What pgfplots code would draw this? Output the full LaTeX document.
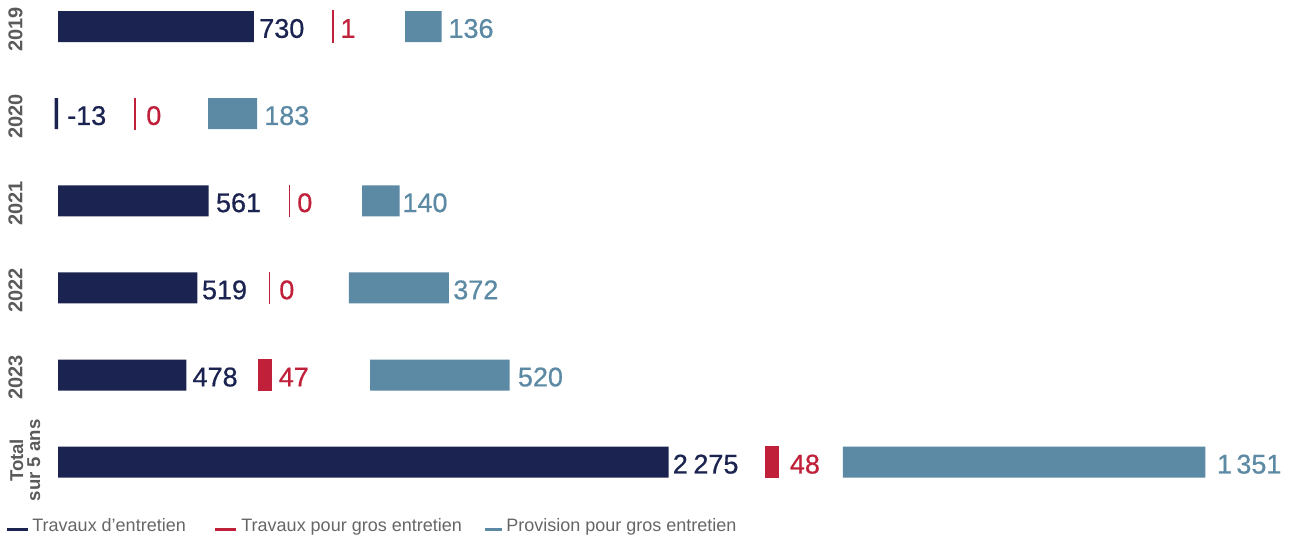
\documentclass[border=0pt]{standalone}
\usepackage{fontspec}
\setmainfont{Liberation Sans}
\newfontfamily\numfamily{Liberation Sans}[FakeBold=0.6]
\usepackage{pgfplots}
\pgfplotsset{compat=1.18}
\definecolor{navy}{HTML}{1B2350}
\definecolor{crimson}{HTML}{C1203A}
\definecolor{steel}{HTML}{5C89A3}
\definecolor{ygray}{HTML}{5A5A5A}
\definecolor{lgray}{HTML}{666666}
\tikzset{
  lab/.style={anchor=west, inner sep=0pt, yshift=-1pt, font=\numfamily\fontsize{13.5}{14}\selectfont},
  yr/.style={rotate=90, text=ygray, font=\bfseries\fontsize{10}{8.5}\selectfont, inner sep=0pt},
  leg/.style={anchor=base west, inner sep=0pt, text=lgray, font=\fontsize{9}{10}\selectfont},
}
\begin{document}
\begin{tikzpicture}
\useasboundingbox (0,0) rectangle (647.5pt,269pt);
\begin{axis}[
  at={(0pt,19pt)}, anchor=south west,
  scale only axis, width=647.5pt, height=250pt,
  xmin=-216.1, xmax=4608.8,
  ymin=-0.304, ymax=5.434, y dir=reverse,
  hide axis, clip=false,
  xbar stacked, bar width=15.5pt,
]
% Travaux d'entretien
\addplot[fill=navy, draw=none]
 coordinates {(730,0) (-13,1) (561,2) (519,3) (478,4) (2275,5)};
% spacer (gap for the value label)
\addplot[draw=none, fill=none]
 coordinates {(294,0) (287,1) (301,2) (268,3) (271,4) (362,5)};
% Travaux pour gros entretien
\addplot[fill=crimson, draw=crimson, line width=0.6pt]
 coordinates {(1,0) (0.01,1) (0.01,2) (0.01,3) (47,4) (48,5)};
% spacer (gap for the value label)
\addplot[draw=none, fill=none]
 coordinates {(268,0) (272,1) (271,2) (297,3) (367,4) (239,5)};
% Provision pour gros entretien
\addplot[fill=steel, draw=none]
 coordinates {(136,0) (183,1) (140,2) (372,3) (520,4) (1351,5)};

% value labels
\node[lab, text=navy] at (axis cs:748.5,0) {730};
\node[lab, text=navy] at (axis cs:32.8,1) {-13};
\node[lab, text=navy] at (axis cs:587.2,2) {561};
\node[lab, text=navy] at (axis cs:535.0,3) {519};
\node[lab, text=navy] at (axis cs:500.0,4) {478};
\node[lab, text=navy] at (axis cs:2289.1,5) {2\kern2.8pt 275};
\node[lab, text=crimson] at (axis cs:1051.0,0) {1};
\node[lab, text=crimson] at (axis cs:327.5,1) {0};
\node[lab, text=crimson] at (axis cs:890.1,2) {0};
\node[lab, text=crimson] at (axis cs:823.0,3) {0};
\node[lab, text=crimson] at (axis cs:821.2,4) {47};
\node[lab, text=crimson] at (axis cs:2725.4,5) {48};
\node[lab, text=steel] at (axis cs:1453.4,0) {136};
\node[lab, text=steel] at (axis cs:767.1,1) {183};
\node[lab, text=steel] at (axis cs:1282.0,2) {140};
\node[lab, text=steel] at (axis cs:1471.3,3) {372};
\node[lab, text=steel] at (axis cs:1712.0,4) {520};
\node[lab, text=steel] at (axis cs:4316.7,5) {1\kern2.2pt 351};

% category labels
\node[yr] at (axis cs:-158,0.03) {2019};
\node[yr] at (axis cs:-158,1.03) {2020};
\node[yr] at (axis cs:-158,2.03) {2021};
\node[yr] at (axis cs:-158,3.03) {2022};
\node[yr] at (axis cs:-158,4.03) {2023};
\node[yr, align=center, font=\bfseries\fontsize{9.3}{8.5}\selectfont] at (axis cs:-123,4.98) {Total\\sur 5 ans};
\end{axis}
% legend
\fill[navy] (3.5pt,3.5pt) rectangle (14pt,5.2pt);
\node[leg] at (16pt,3.5pt) {Travaux d’entretien};
\fill[crimson] (107.5pt,3.5pt) rectangle (118pt,5.2pt);
\node[leg] at (120.5pt,3.5pt) {Travaux pour gros entretien};
\fill[steel] (242.5pt,3.5pt) rectangle (251pt,5.2pt);
\node[leg] at (253pt,3.5pt) {Provision pour gros entretien};
\end{tikzpicture}
\end{document}
